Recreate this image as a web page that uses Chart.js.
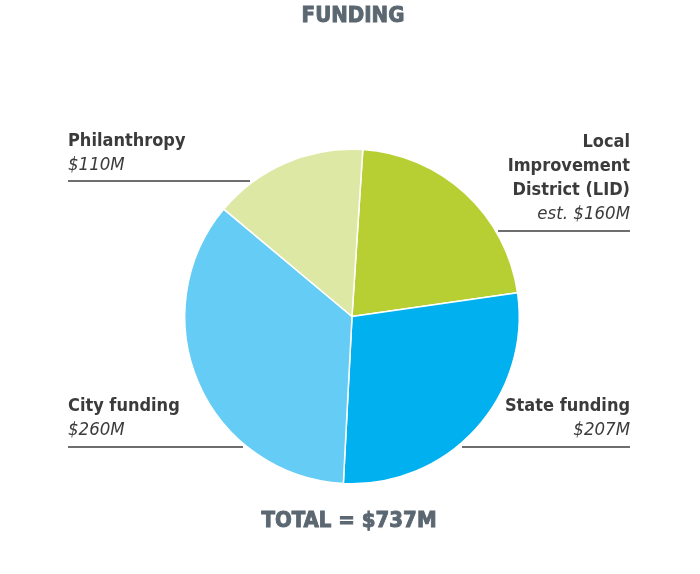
<!DOCTYPE html>
<html>
<head>
<meta charset="utf-8">
<script src="https://cdn.jsdelivr.net/npm/chart.js@4/dist/chart.umd.min.js"></script>
<style>
    html, body { margin: 0; padding: 0; background: #fff; }
    #wrap { position: relative; width: 700px; height: 574px; }
</style>
</head>
<body>
<div id="wrap"><canvas id="funding"></canvas></div>
<script>
// Funding sources ($M), clockwise from the top
const categories = ['Local Improvement District (LID)', 'State funding', 'City funding', 'Philanthropy'];
const labelLines = [['Local', 'Improvement', 'District (LID)'], ['State funding'], ['City funding'], ['Philanthropy']];
const amounts = [160, 207, 260, 110];
const amountPrefix = ['est. ', '', '', ''];
const colors = ['#b8cf33', '#00b0ef', '#64ccf5', '#dde8a5'];

const titleText = 'FUNDING';
const total = amounts.reduce((a, b) => a + b, 0);

// where each callout sits: text anchor, underline
const callouts = [
    { x: 630, y: 142, align: 'right', line: [498, 630, 231] },
    { x: 630, y: 406, align: 'right', line: [462, 630, 447] },
    { x: 68, y: 406, align: 'left', line: [68, 243, 447] },
    { x: 68, y: 141, align: 'left', line: [68, 250, 181] }
];

const FONT = '"DejaVu Sans Condensed", "DejaVu Sans", sans-serif';

const calloutPlugin = {
    id: 'callouts',
    afterDraw(chart) {
        const ctx = chart.ctx;
        ctx.save();
        ctx.textBaseline = 'middle';

        // title and total, slightly stroked to get the heavy weight
        ctx.fillStyle = '#5b6771';
        ctx.strokeStyle = '#5b6771';
        ctx.lineWidth = 0.9;
        ctx.textAlign = 'center';
        ctx.font = 'bold 22px ' + FONT;
        ctx.fillText(titleText, 353, 16);
        ctx.strokeText(titleText, 353, 16);
        const totalText = 'TOTAL = $' + total + 'M';
        ctx.fillText(totalText, 349, 521);
        ctx.strokeText(totalText, 349, 521);

        callouts.forEach((c, i) => {
            ctx.textAlign = c.align;
            ctx.fillStyle = '#3b3b3c';
            ctx.font = 'bold 18px ' + FONT;
            let y = c.y;
            labelLines[i].forEach((t) => {
                ctx.fillText(t, c.x, y);
                y += 24;
            });
            ctx.font = 'oblique 18.5px ' + FONT;
            ctx.fillText(amountPrefix[i] + '$' + amounts[i] + 'M', c.x, y);

            ctx.strokeStyle = '#6d6e70';
            ctx.lineWidth = 2;
            ctx.beginPath();
            ctx.moveTo(c.line[0], c.line[2]);
            ctx.lineTo(c.line[1], c.line[2]);
            ctx.stroke();
        });
        ctx.restore();
    }
};

new Chart(document.getElementById('funding'), {
    type: 'pie',
    data: {
        labels: categories,
        datasets: [
            {
                data: amounts,
                backgroundColor: colors,
                borderColor: '#ffffff',
                borderWidth: 1.5
            }
        ]
    },
    options: {
        responsive: true,
        maintainAspectRatio: false,
        animation: false,
        rotation: 3.7,
        layout: {
            padding: { left: 184, right: 180, top: 148, bottom: 89 }
        },
        plugins: {
            legend: { display: false },
            tooltip: { enabled: false }
        }
    },
    plugins: [calloutPlugin]
});
</script>
</body>
</html>
